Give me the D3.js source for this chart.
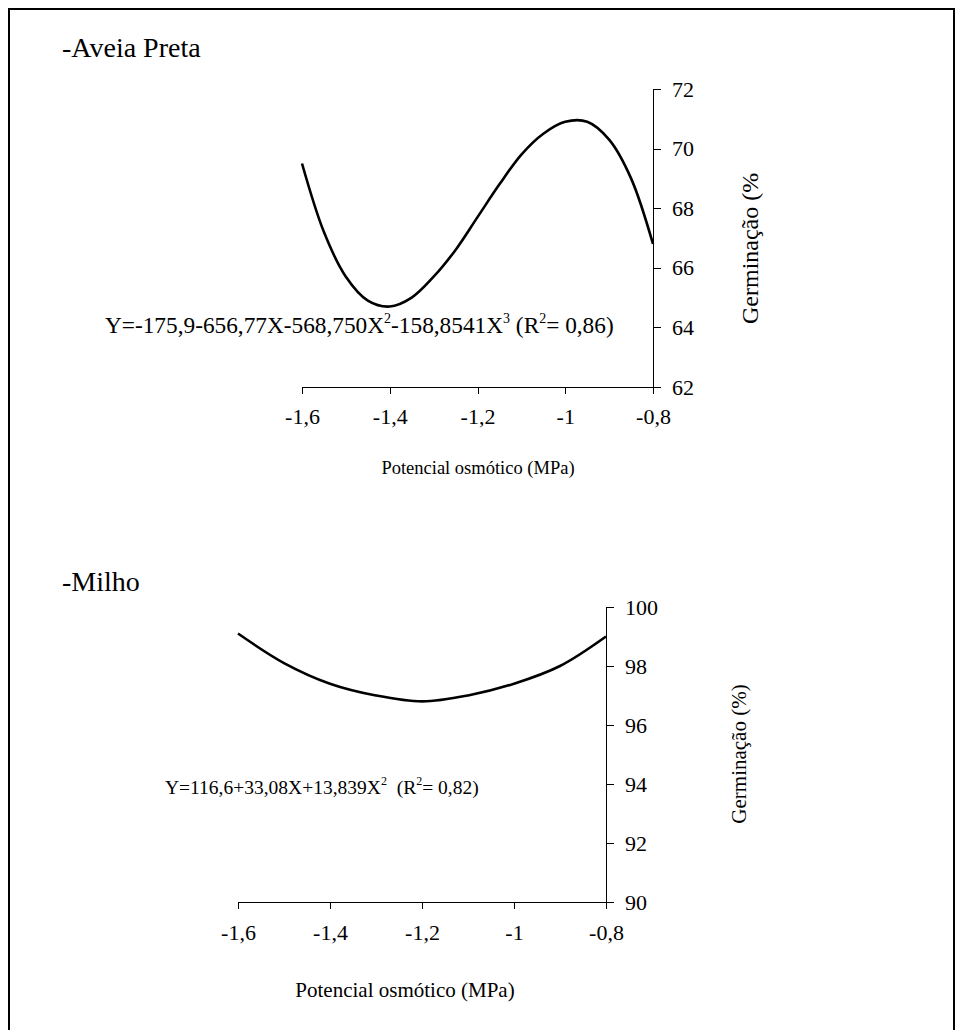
<!DOCTYPE html>
<html lang="pt">
    <head>
        <meta charset="utf-8">
        <title>Germinação</title>
        <script src="https://d3js.org/d3.v7.min.js"></script>
        <style type="text/css">
      body { margin: 0; background: #fff; }
      svg text { font-family: "Liberation Serif", "Times New Roman", serif; fill: #000; }
      .curve { fill: none; stroke: #000; stroke-width: 2.6px; }
      .axis path, .axis line { stroke: #000; stroke-width: 1px; shape-rendering: crispEdges; }
      .ttl { font-size: 28px; }
        </style>
    </head>
    <body>
    <svg width="969" height="1030"></svg>
    <script>
      // potencial osmótico (MPa)
      var xTicks = [-1.6, -1.4, -1.2, -1.0, -0.8];
      var xTickLabels = ["-1,6", "-1,4", "-1,2", "-1", "-0,8"];

      // Aveia Preta
      var aveiaX = [-1.6, -1.55, -1.5, -1.45, -1.4, -1.35, -1.3, -1.25, -1.2, -1.15, -1.1, -1.05, -1.0, -0.95, -0.9, -0.85, -0.8];
      var aveiaY = [69.5, 67.2, 65.7, 64.9, 64.7, 65.0, 65.7, 66.6, 67.7, 68.8, 69.8, 70.5, 70.9, 70.9, 70.3, 69.0, 66.8];
      var aveiaTicks = [62, 64, 66, 68, 70, 72];

      // Milho
      var milhoX = [-1.6, -1.5, -1.4, -1.3, -1.2, -1.1, -1.0, -0.9, -0.8];
      var milhoY = [99.1, 98.1, 97.4, 97.0, 96.8, 97.0, 97.4, 98.0, 99.0];
      var milhoTicks = [90, 92, 94, 96, 98, 100];

      var svg = d3.select("svg");

      svg.append("rect")
          .attr("x", 9).attr("y", 9)
          .attr("width", 945).attr("height", 1040)
          .attr("fill", "none")
          .attr("stroke", "#000")
          .attr("stroke-width", 2);

      function panel(opt) {
        var xScale = d3.scaleLinear().domain([-1.6, -0.8]).range([opt.x0, opt.x1]);
        var yScale = d3.scaleLinear().domain(opt.yDomain).range([opt.y0, opt.y1]);
        var g = svg.append("g");

        g.append("text").attr("class", "ttl")
            .attr("x", 62).attr("y", opt.titleY)
            .text(opt.title);

        g.append("g")
            .attr("class", "axis")
            .attr("transform", `translate(0, ${opt.y0})`)
            .style("font-size", opt.tickFont + "px")
            .call(d3.axisBottom(xScale)
              .tickValues(xTicks)
              .tickFormat((d, i) => xTickLabels[i])
              .tickSize(7).tickSizeOuter(0).tickPadding(opt.xPad));

        g.append("g")
            .attr("class", "axis")
            .attr("transform", `translate(${opt.x1}, 0)`)
            .style("font-size", opt.tickFont + "px")
            .call(d3.axisRight(yScale)
              .tickValues(opt.yTicks)
              .tickSize(8).tickSizeOuter(0).tickPadding(11));

        svg.selectAll(".axis").attr("font-size", null).attr("font-family", null);

        var pts = opt.xs.map((x, i) => [x, opt.ys[i]]);
        var line = d3.line()
            .x(d => xScale(d[0]))
            .y(d => yScale(d[1]))
            .curve(d3.curveCatmullRom);
        g.append("path")
            .datum(pts)
            .attr("class", "curve")
            .attr("d", line);

        g.append("text")
            .attr("x", opt.xLabelX).attr("y", opt.xLabelY)
            .attr("text-anchor", "middle")
            .style("font-size", opt.xLabelFont + "px")
            .text("Potencial osmótico (MPa)");

        g.append("text")
            .attr("transform", `translate(${opt.yLabelX}, ${opt.yLabelY}) rotate(-90)`)
            .attr("text-anchor", opt.yLabelAnchor)
            .style("font-size", opt.yLabelFont + "px")
            .text(opt.yLabel);

        var eq = g.append("text")
            .attr("x", opt.eqX).attr("y", opt.eqY)
            .style("font-size", opt.eqFont + "px");
        var sup = Math.round(opt.eqFont * 0.45);
        opt.eq.forEach(function(p) {
          var t = eq.append("tspan").text(p[0]);
          if (p[1]) t.style("font-size", Math.round(opt.eqFont * 0.6) + "px").attr("dy", -sup);
          else if (p[2]) t.attr("dy", sup);
        });
      }

      panel({
        title: "-Aveia Preta", titleY: 57,
        x0: 302, x1: 653, y0: 387, y1: 89,
        yDomain: [62, 72], yTicks: aveiaTicks,
        tickFont: 22, xPad: 14,
        xs: aveiaX, ys: aveiaY,
        xLabelX: 478, xLabelY: 474, xLabelFont: 18.5,
        yLabel: "Germinação (%", yLabelX: 758, yLabelY: 324, yLabelAnchor: "start", yLabelFont: 24,
        eqX: 105, eqY: 333, eqFont: 23.3,
        eq: [["Y=-175,9-656,77X-568,750X"], ["2", 1], ["-158,8541X", 0, 1], ["3", 1], [" (R", 0, 1], ["2", 1], ["= 0,86)", 0, 1]]
      });

      panel({
        title: "-Milho", titleY: 591,
        x0: 238, x1: 606, y0: 902, y1: 607,
        yDomain: [90, 100], yTicks: milhoTicks,
        tickFont: 22, xPad: 15,
        xs: milhoX, ys: milhoY,
        xLabelX: 405, xLabelY: 997, xLabelFont: 21,
        yLabel: "Germinação (%)", yLabelX: 746, yLabelY: 754, yLabelAnchor: "middle", yLabelFont: 21,
        eqX: 165, eqY: 794, eqFont: 19.5,
        eq: [["Y=116,6+33,08X+13,839X"], ["2", 1], ["\u00a0 (R", 0, 1], ["2", 1], ["= 0,82)", 0, 1]]
      });
    </script>
    </body>
</html>
